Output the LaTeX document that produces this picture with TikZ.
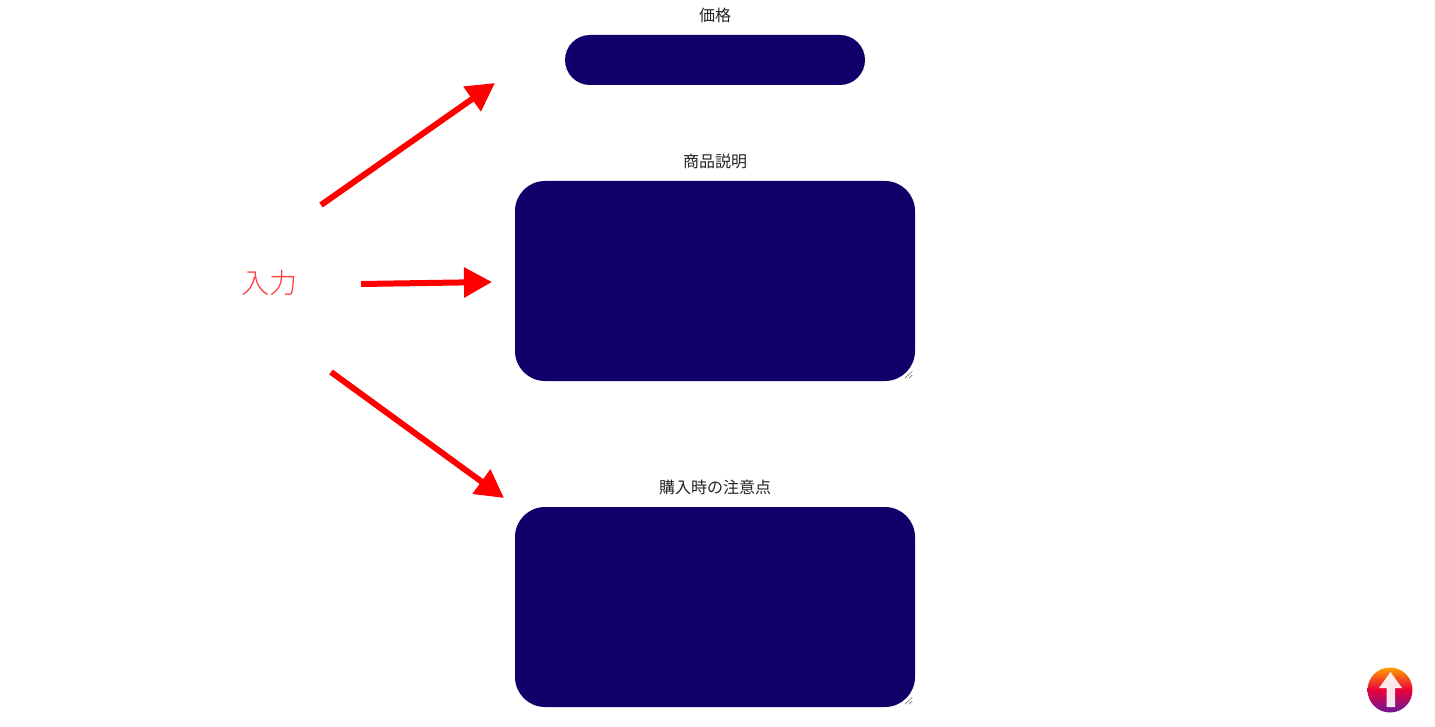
\documentclass[tikz,border=0pt]{standalone}
\usepackage{fontspec}
\setmainfont{Noto Sans CJK JP}
\newfontfamily\thinfont{Noto Sans CJK JP Light}
\usetikzlibrary{positioning,arrows.meta}
\definecolor{fieldNavy}{RGB}{18, 0, 106}
\definecolor{inputRed}{RGB}{255, 64, 64}
\definecolor{labelGray}{RGB}{34, 34, 34}
\definecolor{btnOrange}{RGB}{255, 160, 0}
\definecolor{btnRed}{RGB}{232, 0, 60}
\definecolor{btnPurple}{RGB}{105, 25, 150}

\begin{document}
\begin{tikzpicture}[
      x=1pt, y=-1pt,
      field/.style={fill=fieldNavy, minimum width=400pt, minimum height=200pt, inner sep=0pt, rounded corners=30pt},
      fieldlabel/.style={text=labelGray, inner sep=0pt, font=\fontsize{16}{16}\selectfont},
      arrow/.style={-{Triangle[length=28pt,width=29pt]}, line width=6pt, red},
      grip/.style={line width=0.7pt, black!70, dash pattern=on 1pt off 0.6pt}
    ]
      \useasboundingbox (0,0) rectangle (1435,727);
      \node[field,minimum width=300pt,minimum height=50pt,rounded corners=25pt] (price) at (715,60) {};
      \node[field] (desc) at (715,281) {};
      \node[field] (notes) at (715,607) {};
      \node[fieldlabel,above=12pt of price] (pricelabel) {価格};
      \node[fieldlabel,above=12pt of desc] (desclabel) {商品説明};
      \node[fieldlabel,above=12pt of notes] (noteslabel) {購入時の注意点};
      \node[text=inputRed,inner sep=0pt,font=\thinfont\fontsize{28}{28}\selectfont] (input) at (269,283) {入力};
      \coordinate (upstart) at (321,205);
      \coordinate (upend) at (495,83);
      \coordinate (midstart) at (361,284);
      \coordinate (midend) at (492,282);
      \coordinate (downstart) at (331,372);
      \coordinate (downend) at (504,498);
      \draw[arrow] (upstart) -- (upend);
      \draw[arrow] (midstart) -- (midend);
      \draw[arrow] (downstart) -- (downend);
      \foreach \f in {desc,notes} {
        \begin{scope}[shift={(\f.south east)}]
          \draw[grip] (-10,-3) -- (-3,-10);
          \draw[grip] (-6,-3) -- (-3,-6);
        \end{scope}
      }
      \node[circle,minimum size=45pt,inner sep=0pt,top color=btnOrange,bottom color=btnPurple,middle color=btnRed] (topbtn) at (1390,690) {};
      \fill[white,opacity=0.9] (1390.5,672) -- (1402,688) -- (1395,688) -- (1395,707) -- (1386.5,707) -- (1386.5,688) -- (1379,688) -- cycle;
    \end{tikzpicture}
\end{document}
